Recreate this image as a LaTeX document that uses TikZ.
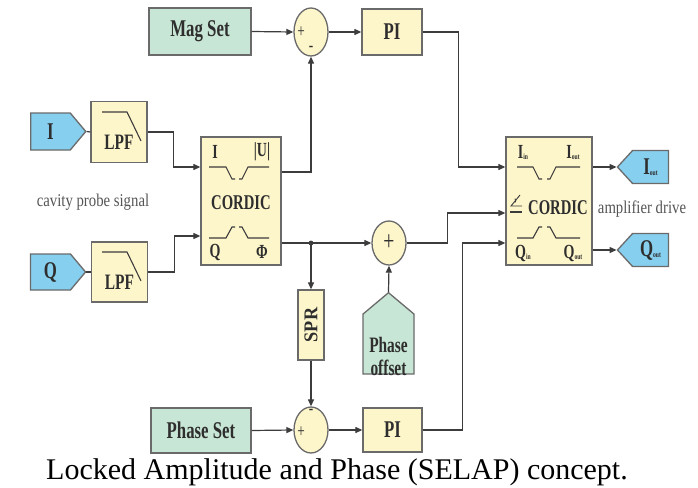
\documentclass[tikz,border=0pt]{standalone}
\usepackage{fontspec}
\setmainfont{Liberation Serif}
\newfontfamily\dfont[FakeStretch=0.7]{Liberation Serif}
\newfontfamily\gfont[FakeStretch=0.82]{Liberation Serif}
\usetikzlibrary{shapes.symbols,shapes.geometric,arrows.meta}
\definecolor{ybox}{HTML}{FEF6CB}
\definecolor{gbox}{HTML}{C8E6D5}
\definecolor{bbox}{HTML}{86CFEF}
\definecolor{edgec}{HTML}{6A6A6A}
\definecolor{wirec}{HTML}{3C3C3C}
\definecolor{txtc}{HTML}{2E2E2E}
\definecolor{graytxt}{HTML}{555555}
\newcommand{\subtxt}[1]{\raisebox{-1pt}{\fontsize{8}{8}\selectfont #1}}
\begin{document}
\begin{tikzpicture}[x=1pt,y=-1pt,
  blk/.style={draw=edgec, line width=1.3pt, inner sep=0pt, text=txtc,
    font={\dfont\bfseries\fontsize{24}{26}\selectfont}},
  ybk/.style={blk, fill=ybox, rectangle},
  gbk/.style={blk, fill=gbox, rectangle},
  sumn/.style={blk, fill=ybox, ellipse},
  sigr/.style={blk, fill=bbox, signal, signal from=nowhere, signal to=east, signal pointer angle=100},
  sigl/.style={blk, fill=bbox, signal, signal from=nowhere, signal to=west, signal pointer angle=95},
  wire/.style={draw=wirec, line width=1.2pt},
  arr/.style={wire, -{Triangle[length=7pt,width=6pt]}},
  sym/.style={draw=wirec, line width=1.1pt},
  lbl/.style={inner sep=0pt, text=txtc, font={\dfont\bfseries\fontsize{20}{22}\selectfont}},
  glbl/.style={inner sep=0pt, text=graytxt, font={\gfont\fontsize{18}{20}\selectfont}}
]
\useasboundingbox (0,0) rectangle (698,487);
\fill[white] (0,0) rectangle (698,487);

% top loop
\node[gbk, minimum width=102pt, minimum height=47pt] (mag) at (200,31.5) {Mag Set};
\node[sumn, minimum width=34pt, minimum height=48pt] (s1) at (311,32) {};
\node[ybk, minimum width=60pt, minimum height=46pt] (pi1) at (392,32) {PI};
\node[lbl, font={\dfont\fontsize{19}{19}\selectfont}] (s1p) at (301,32) {+};
\node[lbl, font={\dfont\fontsize{19}{19}\selectfont}] (s1m) at (311,49) {-};

% inputs
\node[sigr, minimum width=55pt, minimum height=37pt] (inI) at (50.5,131.5) {I};
\node[sigr, minimum width=55pt, minimum height=36pt] (inQ) at (50.5,272) {Q};
\node[ybk, minimum width=56pt, minimum height=61pt, font={\dfont\bfseries\fontsize{22}{24}\selectfont}] (lpf1) at (119,132) {\raisebox{-10pt}[\height][\depth]{LPF}};
\node[ybk, minimum width=56pt, minimum height=60pt, font={\dfont\bfseries\fontsize{22}{24}\selectfont}] (lpf2) at (119.5,272) {\raisebox{-10pt}[\height][\depth]{LPF}};
\draw[sym] (102,112) -- (127,112) -- (141,141);
\draw[sym] (102,252) -- (127,252) -- (141,281);

\node[glbl] (cps) at (93,202) {cavity probe signal};

% CORDIC 1
\node[ybk, minimum width=80pt, minimum height=128pt, font={\dfont\bfseries\fontsize{21}{23}\selectfont}] (c1) at (241,201) {\raisebox{-2pt}[\height][\depth]{CORDIC}};
\node[lbl] (c1I) at (215,152) {I};
\node[lbl] (c1U) at (262,152) {|U|};
\node[lbl] (c1Q) at (215,252) {Q};
\node[lbl] (c1P) at (262,252) {Φ};
\draw[sym] (209,167) -- (226,167) -- (232,179) -- (235,179);
\draw[sym] (239,179) -- (242,179) -- (248,167) -- (269,167);
\draw[sym] (209,238) -- (226,238) -- (232,227) -- (235,227);
\draw[sym] (239,227) -- (242,227) -- (248,238) -- (269,238);

% middle
\node[sumn, minimum width=34pt, minimum height=44pt, font={\dfont\fontsize{28}{28}\selectfont}] (s2) at (389,243) {+};
\node[ybk, minimum width=26pt, minimum height=70pt] (spr) at (311,325) {\rotatebox{90}{\scalebox{1}[0.75]{\bfseries\fontsize{26}{26}\selectfont SPR}}};
\node[blk, fill=gbox, signal, signal from=nowhere, signal to=north, signal pointer angle=100,
  minimum width=51pt, minimum height=76pt,
  font={\dfont\bfseries\fontsize{22}{23}\selectfont}] (poff) at (388.5,344) {\raisebox{-15pt}[\height][\depth]{\begin{tabular}{@{}c@{}}Phase\\offset\end{tabular}}};

% bottom loop
\node[gbk, minimum width=100pt, minimum height=45pt] (pset) at (201,430.5) {Phase Set};
\node[sumn, minimum width=34pt, minimum height=46pt] (s3) at (311,430) {};
\node[ybk, minimum width=59pt, minimum height=44pt] (pi2) at (392.5,430) {PI};
\node[lbl, font={\dfont\fontsize{19}{19}\selectfont}] (s3p) at (301,432) {+};
\node[lbl, font={\dfont\fontsize{19}{19}\selectfont}] (s3m) at (311,412) {-};

% CORDIC 2
\node[ybk, minimum width=86pt, minimum height=128pt, font={\dfont\bfseries\fontsize{21}{23}\selectfont}] (c2) at (549,201) {\hspace*{18pt}\raisebox{-7pt}[\height][\depth]{CORDIC}};
\node[lbl] (c2Ii) at (523,152) {I\subtxt{in}};
\node[lbl] (c2Io) at (573,152) {I\subtxt{out}};
\node[lbl] (c2Qi) at (523,253) {Q\subtxt{in}};
\node[lbl] (c2Qo) at (573,253) {Q\subtxt{out}};
\draw[sym] (517,167) -- (533,167) -- (539,179) -- (542,179);
\draw[sym] (547,179) -- (550,179) -- (556,167) -- (580,167);
\draw[sym] (517,238) -- (533,238) -- (539,227) -- (542,227);
\draw[sym] (547,227) -- (550,227) -- (556,238) -- (580,238);
\draw[sym, line width=0.9pt] (522,206) -- (511,206) -- (520,195);
\draw[sym, line width=0.9pt] (515,202.5) arc[start angle=-40, end angle=40, radius=3pt];
\draw[sym] (510,212) -- (522,212);

\node[sigl, minimum width=51pt, minimum height=33pt] (iout) at (650.5,167) {I\subtxt{out}};
\node[sigl, minimum width=51pt, minimum height=33pt] (qout) at (650.5,250) {Q\subtxt{out}};
\node[glbl] (amp) at (642,209) {amplifier drive};

% caption
\node[anchor=base, inner sep=0pt, font={\fontsize{30}{32}\selectfont}] (cap) at (337,479) {Locked Amplitude and Phase (SELAP) concept.};

% connector points
\coordinate (c1i1) at ([yshift=34pt]c1.west);
\coordinate (c1i2) at ([yshift=-35pt]c1.west);
\coordinate (c1o1) at ([yshift=29pt]c1.east);
\coordinate (c1o2) at ([yshift=-42pt]c1.east);
\coordinate (c2i1) at ([yshift=34pt]c2.west);
\coordinate (c2i2) at ([yshift=-12pt]c2.west);
\coordinate (c2i3) at ([yshift=-42pt]c2.west);
\coordinate (c2o1) at ([yshift=34pt]c2.east);
\coordinate (c2o2) at ([yshift=-49pt]c2.east);
\coordinate (jn) at (spr.north |- s2.west);

% wires
\draw[wire] (inI.east) -- (lpf1.west);
\draw[wire] (inQ.east) -- (lpf2.west);
\draw[arr] (lpf1.east) -- ++(26,0) |- (c1i1);
\draw[arr] (lpf2.east) -- ++(26,0) |- (c1i2);
\draw[arr] (c1o1) -| (s1.south);
\draw[arr] (mag.east) -- (s1.west);
\draw[arr] (s1.east) -- (pi1.west);
\draw[arr] (pi1.east) -- ++(36,0) |- (c2i1);
\draw[arr] (c1o2) -- (s2.west);
\fill[wirec] (jn) circle (2.4pt);
\draw[arr] (jn) -- (spr.north);
\draw[arr] (spr.south) -- (s3.north);
\draw[arr] (poff.north) -- (s2.south);
\draw[arr] (s2.east) -- ++(41,0) |- (c2i2);
\draw[arr] (pset.east) -- (s3.west);
\draw[arr] (s3.east) -- (pi2.west);
\draw[arr] (pi2.east) -- ++(40,0) |- (c2i3);
\draw[arr] (c2o1) -- (iout.west);
\draw[arr] (c2o2) -- (qout.west);
\end{tikzpicture}
\end{document}
